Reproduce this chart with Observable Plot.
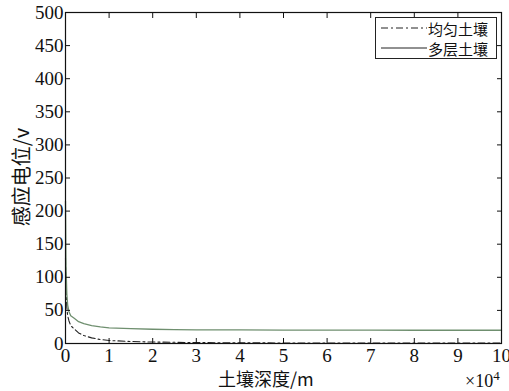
<!DOCTYPE html>
<html>
<head>
<meta charset="utf-8">
<script src="https://cdn.jsdelivr.net/npm/d3@7"></script>
<script src="https://cdn.jsdelivr.net/npm/@observablehq/plot@0.6"></script>
<style>
html,body{margin:0;padding:0;background:#fff;}
#wrap{position:relative;width:509px;height:391px;font-family:"Liberation Serif","Times New Roman","DejaVu Serif",serif;}
#wrap svg text{font-family:"Liberation Serif","Times New Roman","DejaVu Serif",serif !important;}
.lbl{position:absolute;color:#111;white-space:nowrap;line-height:1;}
</style>
</head>
<body>
<div id="wrap"></div>
<script>
// depth in units of 10^4 m
const depth = [0, 0.01, 0.03, 0.05, 0.08, 0.12, 0.2, 0.3, 0.42, 0.6, 0.8, 1, 1.5, 2, 2.5, 3, 4, 5, 6, 7, 8, 9, 10];
const multiLayer = [215, 120, 75, 58, 48, 42, 38, 33, 30, 27, 25, 23.5, 22.5, 21.5, 21, 20.7, 20.5, 20.3, 20.2, 20.1, 20, 20, 20];
const uniform = [130, 85, 55, 42, 34, 27, 22, 16, 12, 8.5, 6, 4.5, 3, 2.2, 1.8, 1.4, 1.0, 0.8, 0.7, 0.6, 0.5, 0.5, 0.5];
const xTicks = [0,1,2,3,4,5,6,7,8,9,10];
const yTicks = [0,50,100,150,200,250,300,350,400,450,500];
const seriesNames = ["均匀土壤", "多层土壤"];

const solidData = depth.map((d,i)=>({x:d, y:multiLayer[i]}));
const dashData = depth.map((d,i)=>({x:d, y:uniform[i]}));
const FF = "'Liberation Serif', 'Times New Roman', 'DejaVu Serif', serif";

const chart = Plot.plot({
  width: 509, height: 391,
  marginLeft: 65, marginRight: 8, marginTop: 12, marginBottom: 48,
  style: {fontFamily: FF, fontSize: "19px", color: "#111", background: "#fff"},
  x: {domain: [0,10]},
  y: {domain: [0,500]},
  marks: [
    Plot.line(dashData, {x:"x", y:"y", stroke:"#222", strokeWidth:1.1, strokeDasharray:"7,3,2,3"}),
    Plot.line(solidData, {x:"x", y:"y", stroke:"#6f8f6f", strokeWidth:1.3}),
    Plot.axisX({ticks: xTicks, tickSize: -5, tickPadding: 10, label: null, tickFormat: d=>d, fontSize: 19, fontFamily: FF}),
    Plot.axisX({ticks: xTicks, anchor:"top", tickSize: -5, tickFormat: ()=>"", label: null}),
    Plot.axisY({ticks: yTicks, tickSize: -5, tickPadding: 7, label: null, fontSize: 19, fontFamily: FF}),
    Plot.axisY({ticks: yTicks, anchor:"right", tickSize: -5, tickFormat: ()=>"", label: null}),
    Plot.frame({stroke:"#111", strokeWidth:1.2})
  ]
});
const wrap = document.getElementById("wrap");
wrap.appendChild(chart);

function addLabel(html, css){
  const d = document.createElement("div");
  d.className = "lbl";
  d.innerHTML = html;
  Object.assign(d.style, css);
  wrap.appendChild(d);
  return d;
}
addLabel("土壤深度/m", {left:"218px", top:"369px", fontSize:"18px", fontFamily:'"Noto Sans CJK SC","Liberation Serif",serif'});
addLabel("×10<sup style='font-size:13px;vertical-align:7px;line-height:1'>4</sup>", {left:"465px", top:"369px", fontSize:"18px"});
addLabel("感应电位/v", {left:"21px", top:"177px", fontSize:"20px", fontFamily:'"Noto Sans CJK SC","Liberation Serif",serif', transform:"translate(-50%,-50%) rotate(-90deg)"});

// legend
const leg = document.createElement("div");
Object.assign(leg.style, {position:"absolute", left:"375px", top:"17px", width:"122px", height:"42px", border:"1px solid #222", background:"#fff", boxSizing:"border-box", fontFamily:'"Noto Sans CJK SC",serif', fontSize:"15px", color:"#111", lineHeight:"1"});
const styles = [{stroke:"#222", dash:"7,3,2,3"}, {stroke:"#222", dash:""}];
seriesNames.forEach((n,i)=>{
  const row = document.createElement("div");
  Object.assign(row.style, {position:"absolute", left:"5px", top:(i*20+1)+"px", height:"18px", display:"flex", alignItems:"center"});
  row.innerHTML = `<svg width="46" height="10"><line x1="0" y1="5" x2="46" y2="5" stroke="${styles[i].stroke}" stroke-width="1" ${styles[i].dash?`stroke-dasharray="${styles[i].dash}"`:""}/></svg><span style="margin-left:1px">${n}</span>`;
  leg.appendChild(row);
});
wrap.appendChild(leg);
</script>
</body>
</html>
